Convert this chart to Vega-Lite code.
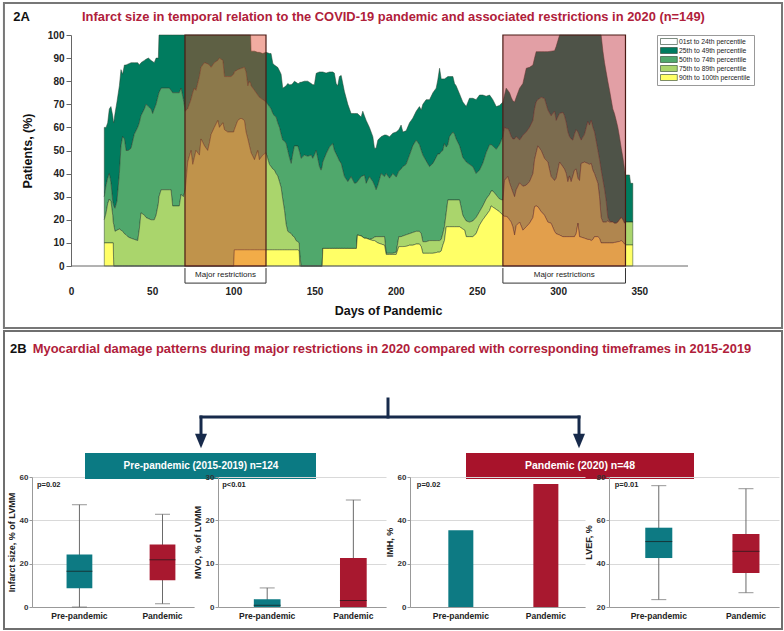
{
"$schema": "https://vega.github.io/schema/vega-lite/v6.json",
"padding": {"left": 2, "top": 2, "right": 2, "bottom": 2},
"background": "white",
"spacing": 0,
"resolve": {"scale": {"color": "independent"}},
"config": {"view": {"stroke": null}, "font": "Liberation Sans", "axis": {"labelFont": "Liberation Sans", "titleFont": "Liberation Sans"}, "text": {"font": "Liberation Sans"}},
"datasets": {
"series": [
{"day":20.5,"c90":10,"c75":20,"c50":30,"c25":60},
{"day":21.6,"c90":10,"c75":23,"c50":35,"c25":60},
{"day":22.6,"c90":10,"c75":27,"c50":38,"c25":62},
{"day":23.6,"c90":10,"c75":29,"c50":40,"c25":68},
{"day":24.6,"c90":10,"c75":28,"c50":36,"c25":69},
{"day":25.7,"c90":10,"c75":22,"c50":28,"c25":65},
{"day":26.0,"c90":10,"c75":19,"c50":27,"c25":63},
{"day":26.3,"c90":0,"c75":18,"c50":26,"c25":62},
{"day":27.1,"c90":0,"c75":15,"c50":25,"c25":66},
{"day":28.3,"c90":0,"c75":15.5,"c50":28,"c25":71},
{"day":29.8,"c90":0,"c75":16,"c50":40,"c25":78},
{"day":30.8,"c90":0,"c75":15.5,"c50":52,"c25":85},
{"day":31.8,"c90":0,"c75":15,"c50":56,"c25":83},
{"day":32.9,"c90":0,"c75":14,"c50":55,"c25":87},
{"day":33.9,"c90":0,"c75":13.5,"c50":50,"c25":87},
{"day":35.3,"c90":0,"c75":12.5,"c50":50,"c25":87.5},
{"day":37.0,"c90":0,"c75":12,"c50":51,"c25":88},
{"day":39.0,"c90":0,"c75":11.5,"c50":57,"c25":88},
{"day":41.1,"c90":0,"c75":11,"c50":60,"c25":88},
{"day":42.1,"c90":0,"c75":16,"c50":62,"c25":87},
{"day":43.1,"c90":0,"c75":23,"c50":65,"c25":88},
{"day":45.2,"c90":0,"c75":22,"c50":68,"c25":89},
{"day":46.2,"c90":0,"c75":21,"c50":70,"c25":89.5},
{"day":47.7,"c90":0,"c75":20.5,"c50":69,"c25":90},
{"day":49.3,"c90":0,"c75":20,"c50":68,"c25":89},
{"day":50.3,"c90":0,"c75":20,"c50":66,"c25":88.5},
{"day":51.3,"c90":0,"c75":20,"c50":68,"c25":88},
{"day":52.4,"c90":0,"c75":22,"c50":70,"c25":90},
{"day":53.8,"c90":0,"c75":27,"c50":74,"c25":90},
{"day":54.2,"c90":0,"c75":30,"c50":75,"c25":100},
{"day":55.5,"c90":0,"c75":33,"c50":77,"c25":100},
{"day":60.6,"c90":0,"c75":33,"c50":77,"c25":100},
{"day":61.6,"c90":0,"c75":33,"c50":76,"c25":100},
{"day":62.6,"c90":0,"c75":26,"c50":75,"c25":100},
{"day":66.7,"c90":0,"c75":26,"c50":75,"c25":100},
{"day":67.8,"c90":0,"c75":31,"c50":77,"c25":100},
{"day":69.2,"c90":0,"c75":30,"c50":72,"c25":100},
{"day":70.4,"c90":0,"c75":33,"c50":67,"c25":100},
{"day":71.9,"c90":0,"c75":45,"c50":68,"c25":100},
{"day":73.9,"c90":0,"c75":50,"c50":72,"c25":100},
{"day":75.0,"c90":0,"c75":44,"c50":75,"c25":100},
{"day":76.0,"c90":0,"c75":47,"c50":77,"c25":100},
{"day":77.0,"c90":0,"c75":50,"c50":76,"c25":100},
{"day":79.1,"c90":0,"c75":48,"c50":82,"c25":100},
{"day":80.1,"c90":0,"c75":55,"c50":86,"c25":100},
{"day":82.2,"c90":0,"c75":52,"c50":88,"c25":100},
{"day":84.2,"c90":0,"c75":50,"c50":87.5,"c25":100},
{"day":85.2,"c90":0,"c75":53,"c50":87,"c25":100},
{"day":86.3,"c90":0,"c75":57,"c50":86,"c25":100},
{"day":88.3,"c90":0,"c75":60,"c50":88,"c25":100},
{"day":90.4,"c90":0,"c75":63,"c50":89,"c25":100},
{"day":91.4,"c90":0,"c75":60,"c50":90,"c25":100},
{"day":93.5,"c90":0,"c75":62,"c50":89,"c25":100},
{"day":94.5,"c90":0,"c75":59,"c50":82,"c25":100},
{"day":96.5,"c90":0,"c75":58,"c50":82,"c25":100},
{"day":98.6,"c90":0,"c75":58,"c50":82,"c25":100},
{"day":100.2,"c90":0,"c75":58,"c50":83,"c25":100},
{"day":100.6,"c90":7,"c75":59,"c50":84,"c25":100},
{"day":102.7,"c90":7,"c75":63,"c50":85,"c25":100},
{"day":104.7,"c90":7,"c75":64,"c50":85.5,"c25":100},
{"day":106.8,"c90":7,"c75":63,"c50":86,"c25":100},
{"day":107.8,"c90":7,"c75":58,"c50":84,"c25":100},
{"day":108.9,"c90":7,"c75":55,"c50":78,"c25":100},
{"day":109.9,"c90":7,"c75":52,"c50":80,"c25":100},
{"day":110.6,"c90":7,"c75":50,"c50":79,"c25":100},
{"day":110.9,"c90":7,"c75":49,"c50":78,"c25":93},
{"day":113.0,"c90":7,"c75":46,"c50":76,"c25":93},
{"day":115.0,"c90":7,"c75":50,"c50":74,"c25":92.5},
{"day":116.0,"c90":7,"c75":46,"c50":73,"c25":92.5},
{"day":118.1,"c90":7,"c75":48,"c50":72,"c25":92},
{"day":120.1,"c90":7,"c75":49,"c50":71,"c25":92.5},
{"day":122.2,"c90":7,"c75":44,"c50":69,"c25":92},
{"day":123.2,"c90":7,"c75":43,"c50":68,"c25":92},
{"day":124.3,"c90":7,"c75":42,"c50":66,"c25":87.7},
{"day":125.3,"c90":7,"c75":41.5,"c50":65,"c25":87},
{"day":126.3,"c90":7,"c75":40,"c50":64.5,"c25":86.5},
{"day":127.3,"c90":7,"c75":39,"c50":62,"c25":86},
{"day":128.4,"c90":7,"c75":36.5,"c50":60,"c25":84.5},
{"day":129.4,"c90":7,"c75":34,"c50":57,"c25":83},
{"day":130.4,"c90":7,"c75":29,"c50":54.5,"c25":77},
{"day":131.5,"c90":7,"c75":24,"c50":54,"c25":77.5},
{"day":132.5,"c90":7,"c75":18,"c50":53,"c25":78},
{"day":133.5,"c90":7,"c75":15,"c50":50,"c25":79},
{"day":134.5,"c90":7,"c75":14.5,"c50":47,"c25":78.5},
{"day":135.6,"c90":7,"c75":14,"c50":44.4,"c25":78.5},
{"day":136.6,"c90":7,"c75":13,"c50":48.5,"c25":79},
{"day":137.6,"c90":7,"c75":12.5,"c50":52,"c25":80},
{"day":138.6,"c90":7,"c75":11,"c50":52,"c25":79.5},
{"day":139.7,"c90":7,"c75":10.5,"c50":52,"c25":79},
{"day":140.5,"c90":6.6,"c75":10,"c50":50,"c25":79},
{"day":140.9,"c90":0,"c75":5,"c50":49,"c25":79.5},
{"day":141.7,"c90":0,"c75":0,"c50":46.6,"c25":79.5},
{"day":143.8,"c90":0,"c75":0,"c50":48,"c25":80},
{"day":145.8,"c90":0,"c75":0,"c50":47.5,"c25":80},
{"day":147.9,"c90":0,"c75":0,"c50":48,"c25":79},
{"day":148.9,"c90":0,"c75":0,"c50":46.6,"c25":78.5},
{"day":149.9,"c90":0,"c75":0,"c50":48,"c25":78.5},
{"day":151.0,"c90":0,"c75":0,"c50":50,"c25":83.4},
{"day":153.0,"c90":0,"c75":0,"c50":43,"c25":84},
{"day":154.0,"c90":0,"c75":0,"c50":41.5,"c25":84},
{"day":154.7,"c90":0,"c75":0,"c50":43,"c25":84},
{"day":155.1,"c90":7.6,"c75":7.6,"c50":45,"c25":84},
{"day":157.1,"c90":7.6,"c75":7.6,"c50":48.5,"c25":83.5},
{"day":159.2,"c90":7.6,"c75":7.6,"c50":51.5,"c25":84},
{"day":161.2,"c90":7.6,"c75":7.6,"c50":53,"c25":84},
{"day":162.2,"c90":7.6,"c75":7.6,"c50":50,"c25":83.5},
{"day":163.3,"c90":7.6,"c75":7.6,"c50":48.5,"c25":79},
{"day":164.3,"c90":7.6,"c75":7.6,"c50":47,"c25":78},
{"day":165.3,"c90":7.6,"c75":7.6,"c50":45.5,"c25":82},
{"day":166.4,"c90":7.6,"c75":7.6,"c50":44.4,"c25":82.5},
{"day":167.4,"c90":7.6,"c75":7.6,"c50":41.5,"c25":79},
{"day":168.4,"c90":7.6,"c75":7.6,"c50":38.7,"c25":75.5},
{"day":170.5,"c90":7.6,"c75":7.6,"c50":36.5,"c25":70},
{"day":172.5,"c90":7.6,"c75":7.6,"c50":38.7,"c25":66},
{"day":174.6,"c90":7.6,"c75":7.6,"c50":35.8,"c25":66},
{"day":175.8,"c90":7.6,"c75":7.6,"c50":36,"c25":66},
{"day":176.4,"c90":13.4,"c75":13.4,"c50":36.5,"c25":66},
{"day":178.7,"c90":13,"c75":13,"c50":38.7,"c25":64.5},
{"day":179.7,"c90":12.5,"c75":12.5,"c50":39,"c25":67},
{"day":180.7,"c90":12,"c75":12,"c50":39.4,"c25":65},
{"day":181.8,"c90":12,"c75":12,"c50":35.8,"c25":63},
{"day":183.8,"c90":11.5,"c75":11.5,"c50":38.7,"c25":60},
{"day":185.9,"c90":11,"c75":12,"c50":36.5,"c25":56},
{"day":186.9,"c90":11,"c75":12.5,"c50":35,"c25":51},
{"day":187.9,"c90":10.5,"c75":12.7,"c50":33,"c25":51},
{"day":189.0,"c90":10,"c75":12.7,"c50":35,"c25":54.5},
{"day":191.0,"c90":9.5,"c75":12.7,"c50":40,"c25":56},
{"day":193.1,"c90":9,"c75":12.7,"c50":38.7,"c25":56.7},
{"day":194.1,"c90":5,"c75":5.5,"c50":40,"c25":56.7},
{"day":196.2,"c90":5,"c75":5.5,"c50":38,"c25":56},
{"day":198.2,"c90":5,"c75":5.5,"c50":40,"c25":57.5},
{"day":200.3,"c90":5,"c75":6,"c50":38.5,"c25":58},
{"day":201.9,"c90":8.4,"c75":12.7,"c50":41,"c25":59},
{"day":203.3,"c90":8.4,"c75":12.7,"c50":42,"c25":61},
{"day":204.4,"c90":8.4,"c75":13,"c50":43,"c25":58},
{"day":206.4,"c90":8.5,"c75":13.5,"c50":44,"c25":58.5},
{"day":208.5,"c90":9,"c75":14,"c50":48,"c25":62},
{"day":210.5,"c90":9,"c75":14.5,"c50":52,"c25":64},
{"day":212.6,"c90":9.5,"c75":15,"c50":54.5,"c25":67},
{"day":214.6,"c90":9.5,"c75":15,"c50":52.5,"c25":69},
{"day":215.7,"c90":8.4,"c75":14,"c50":50,"c25":67.5},
{"day":216.7,"c90":5.5,"c75":10.5,"c50":48,"c25":70},
{"day":218.7,"c90":5.5,"c75":10.5,"c50":45.5,"c25":72},
{"day":220.8,"c90":5.5,"c75":11,"c50":43,"c25":72},
{"day":222.9,"c90":5.5,"c75":11,"c50":44.4,"c25":75},
{"day":224.9,"c90":5.8,"c75":11,"c50":47,"c25":77},
{"day":225.9,"c90":6,"c75":11,"c50":48.5,"c25":80.5},
{"day":227.0,"c90":6,"c75":11,"c50":48.5,"c25":85.6},
{"day":228.0,"c90":6.5,"c75":11.5,"c50":49.5,"c25":81},
{"day":229.0,"c90":9,"c75":14,"c50":50,"c25":81},
{"day":230.0,"c90":11,"c75":17,"c50":53,"c25":81},
{"day":231.1,"c90":17,"c75":23,"c50":51.5,"c25":81.5},
{"day":232.1,"c90":17,"c75":28.6,"c50":52.5,"c25":82},
{"day":233.1,"c90":17,"c75":28.6,"c50":56,"c25":82},
{"day":235.2,"c90":17,"c75":28.6,"c50":58,"c25":82},
{"day":236.2,"c90":17,"c75":28.6,"c50":57,"c25":79},
{"day":237.2,"c90":17,"c75":28.6,"c50":55,"c25":78},
{"day":239.3,"c90":17,"c75":28.6,"c50":52,"c25":74.5},
{"day":241.3,"c90":16,"c75":22,"c50":47,"c25":71},
{"day":242.4,"c90":15.6,"c75":20.6,"c50":46,"c25":70},
{"day":243.4,"c90":12.7,"c75":19.5,"c50":45,"c25":69},
{"day":245.4,"c90":12.7,"c75":19,"c50":44,"c25":72.6},
{"day":247.5,"c90":12.7,"c75":19.5,"c50":43,"c25":72.6},
{"day":249.5,"c90":14,"c75":21,"c50":40,"c25":72},
{"day":251.6,"c90":17.7,"c75":23.5,"c50":41.5,"c25":74},
{"day":253.6,"c90":20,"c75":26,"c50":44.4,"c25":74},
{"day":255.7,"c90":22,"c75":29,"c50":49,"c25":73.5},
{"day":257.8,"c90":24,"c75":31,"c50":52.5,"c25":74},
{"day":258.8,"c90":26,"c75":32.5,"c50":52.5,"c25":73},
{"day":259.8,"c90":25.5,"c75":32.5,"c50":52,"c25":72},
{"day":261.9,"c90":24.5,"c75":30.7,"c50":50.5,"c25":69},
{"day":263.9,"c90":23.5,"c75":29,"c50":52.5,"c25":69.5},
{"day":266.0,"c90":22,"c75":28.5,"c50":56,"c25":71},
{"day":267.0,"c90":21.5,"c75":37,"c50":60,"c25":74},
{"day":268.0,"c90":21.5,"c75":38,"c50":59.5,"c25":77},
{"day":269.1,"c90":21,"c75":38.7,"c50":59.5,"c25":76},
{"day":270.1,"c90":20,"c75":36,"c50":58,"c25":75},
{"day":271.1,"c90":19,"c75":34,"c50":56,"c25":73},
{"day":272.1,"c90":17,"c75":32,"c50":55,"c25":71.5},
{"day":273.2,"c90":13.4,"c75":30,"c50":55,"c25":71},
{"day":274.2,"c90":17.5,"c75":33,"c50":56,"c25":73},
{"day":276.3,"c90":19,"c75":36,"c50":54.5,"c25":77},
{"day":278.3,"c90":15.5,"c75":34.5,"c50":56.5,"c25":79},
{"day":280.4,"c90":17,"c75":35,"c50":58,"c25":85.6},
{"day":282.4,"c90":18.5,"c75":36.5,"c50":60,"c25":86},
{"day":284.5,"c90":21,"c75":40,"c50":63,"c25":87},
{"day":285.5,"c90":25.7,"c75":46,"c50":68,"c25":90},
{"day":286.5,"c90":26,"c75":49,"c50":71,"c25":92.8},
{"day":287.5,"c90":25.7,"c75":52,"c50":72,"c25":92.8},
{"day":289.6,"c90":23.5,"c75":50,"c50":73,"c25":92.8},
{"day":291.6,"c90":22,"c75":46.6,"c50":72.5,"c25":92.8},
{"day":293.7,"c90":19,"c75":45,"c50":67.5,"c25":92.8},
{"day":295.7,"c90":18.5,"c75":38.7,"c50":65,"c25":93},
{"day":297.8,"c90":15,"c75":37,"c50":67,"c25":93.2},
{"day":298.8,"c90":14,"c75":38,"c50":63,"c25":95},
{"day":300.9,"c90":13.4,"c75":45,"c50":66,"c25":100},
{"day":302.9,"c90":12.7,"c75":43,"c50":66.5,"c25":100},
{"day":303.9,"c90":12.7,"c75":42,"c50":65,"c25":100},
{"day":305.0,"c90":12.7,"c75":40,"c50":62,"c25":100},
{"day":306.0,"c90":12.7,"c75":36.5,"c50":58,"c25":100},
{"day":307.0,"c90":12.7,"c75":39,"c50":56,"c25":100},
{"day":308.0,"c90":12.7,"c75":36.5,"c50":55,"c25":100},
{"day":309.1,"c90":12.7,"c75":39,"c50":54.5,"c25":100},
{"day":310.1,"c90":12.7,"c75":41.5,"c50":57,"c25":100},
{"day":311.1,"c90":14,"c75":42,"c50":59,"c25":100},
{"day":312.2,"c90":18.5,"c75":38,"c50":58,"c25":100},
{"day":313.2,"c90":12.7,"c75":37,"c50":56,"c25":100},
{"day":314.2,"c90":12.5,"c75":44.4,"c50":54.5,"c25":100},
{"day":316.3,"c90":12,"c75":45,"c50":57,"c25":100},
{"day":318.3,"c90":11.5,"c75":44.4,"c50":62.5,"c25":100},
{"day":319.3,"c90":11.5,"c75":44,"c50":61,"c25":100},
{"day":320.4,"c90":11,"c75":44.4,"c50":63,"c25":100},
{"day":321.4,"c90":11.5,"c75":41.5,"c50":60,"c25":100},
{"day":322.4,"c90":12.7,"c75":40,"c50":58,"c25":100},
{"day":324.5,"c90":12.7,"c75":35.8,"c50":50,"c25":100},
{"day":325.5,"c90":12,"c75":30,"c50":46,"c25":100},
{"day":326.5,"c90":10,"c75":21,"c50":41.5,"c25":100},
{"day":327.6,"c90":10,"c75":19,"c50":37,"c25":93},
{"day":328.6,"c90":10,"c75":19,"c50":33,"c25":88},
{"day":329.6,"c90":10,"c75":19,"c50":28,"c25":84},
{"day":330.6,"c90":10,"c75":19.5,"c50":21,"c25":80},
{"day":331.7,"c90":10,"c75":19,"c50":19.5,"c25":76},
{"day":332.7,"c90":10,"c75":19,"c50":19,"c25":72},
{"day":333.7,"c90":10,"c75":19,"c50":19,"c25":68},
{"day":334.7,"c90":10.2,"c75":18.5,"c50":18.5,"c25":66},
{"day":335.8,"c90":10.3,"c75":18.5,"c50":18.5,"c25":63},
{"day":336.8,"c90":10.5,"c75":19,"c50":19,"c25":60},
{"day":337.8,"c90":10.6,"c75":20,"c50":20,"c25":56},
{"day":338.9,"c90":11,"c75":21,"c50":21,"c25":51},
{"day":339.9,"c90":10.5,"c75":20,"c50":20,"c25":47},
{"day":340.9,"c90":9.5,"c75":18.5,"c50":18.5,"c25":42},
{"day":341.5,"c90":9.1,"c75":19,"c50":19,"c25":39.4},
{"day":344.0,"c90":9.1,"c75":19,"c50":19,"c25":39.4},
{"day":344.6,"c90":9.1,"c75":19,"c50":19,"c25":35.8},
{"day":346.0,"c90":9.1,"c75":19,"c50":19,"c25":35.8}
],
"restrictions": [
{"start":70.2,"end":120.1,"mid":95.15,"wave":"first","label":"Major restrictions"},
{"start":266.0,"end":341.5,"mid":303.75,"wave":"second","label":"Major restrictions"}
],
"infarct": [
{"group":"Pre-pandemic","min":0,"q1":8.6,"median":16.5,"q3":24.2,"max":47.2},
{"group":"Pandemic","min":1.5,"q1":12.3,"median":21.8,"q3":28.9,"max":42.8}
],
"mvo": [
{"group":"Pre-pandemic","min":0,"q1":0,"median":0.4,"q3":1.8,"max":4.4},
{"group":"Pandemic","min":0,"q1":0,"median":1.5,"q3":11.3,"max":24.7}
],
"imh": [
{"group":"Pre-pandemic","pct":35.4},
{"group":"Pandemic","pct":56.8}
],
"lvef": [
{"group":"Pre-pandemic","min":23.4,"q1":42.6,"median":50.2,"q3":56.6,"max":76},
{"group":"Pandemic","min":26.6,"q1":35.7,"median":45.7,"q3":53.7,"max":74.6}
]
},
"vconcat": [
{
"width": 656, "height": 231,
"resolve": {"axis": {"x": "independent", "y": "independent"}},
"layer": [
{"data": {"name": "series"}, "mark": {"type": "area", "stroke": "#27402e", "strokeWidth": 0.5},
 "encoding": {
  "x": {"field": "day", "type": "quantitative", "scale": {"domain": [-24.02, 380]},
   "axis": {"orient": "bottom", "values": [0,50,100,150,200,250,300,350], "domain": false, "ticks": false, "tickSize": 0, "labelPadding": 20, "labelFontSize": 10, "labelFontWeight": "bold", "labelColor": "#222", "grid": false, "title": "Days of Pandemic", "titleFontSize": 12.5, "titleFontWeight": "bold", "titleColor": "#111", "titlePadding": 8, "titleX": 356}},
  "y": {"field": "c25", "type": "quantitative", "scale": {"domain": [0, 100]},
   "axis": {"orient": "left", "offset": -39, "values": [0,10,20,30,40,50,60,70,80,90,100], "tickSize": 5, "tickColor": "#666", "domainColor": "#666", "labelFontSize": 10, "labelFontWeight": "bold", "labelColor": "#222", "labelPadding": 2, "grid": false, "title": "Patients, (%)", "titleFontSize": 12.5, "titleFontWeight": "bold", "titleColor": "#111", "titlePadding": 13}},
  "y2": {"field": "c50"},
  "color": {"datum": "25th to 49th percentile", "type": "nominal",
   "scale": {"domain": ["01st to 24th percentile", "25th to 49th percentile", "50th to 74th percentile", "75th to 89th percentile", "90th to 100th percentile"], "range": ["#ffffff", "#007c5f", "#50a86c", "#aad56c", "#ffff66"]},
   "legend": {"orient": "none", "legendX": 625, "legendY": 0, "title": null, "labelFontSize": 6.8, "labelColor": "#222", "symbolType": "M-1,-1H4.6V1H-1Z", "symbolSize": 36, "symbolStrokeColor": "#333", "symbolStrokeWidth": 0.6, "symbolOpacity": 1, "strokeColor": "#999", "fillColor": "white", "padding": 3, "rowPadding": 0, "labelOffset": 12}}}},
{"data": {"name": "series"}, "mark": {"type": "area", "stroke": "#27402e", "strokeWidth": 0.5},
 "encoding": {"x": {"field": "day", "type": "quantitative", "scale": {"domain": [-24.02, 380]}, "axis": null}, "y": {"field": "c50", "type": "quantitative", "scale": {"domain": [0, 100]}, "axis": null}, "y2": {"field": "c75"}, "color": {"datum": "50th to 74th percentile", "type": "nominal"}}},
{"data": {"name": "series"}, "mark": {"type": "area", "stroke": "#27402e", "strokeWidth": 0.5},
 "encoding": {"x": {"field": "day", "type": "quantitative", "scale": {"domain": [-24.02, 380]}, "axis": null}, "y": {"field": "c75", "type": "quantitative", "scale": {"domain": [0, 100]}, "axis": null}, "y2": {"field": "c90"}, "color": {"datum": "75th to 89th percentile", "type": "nominal"}}},
{"data": {"name": "series"}, "mark": {"type": "area", "stroke": "#27402e", "strokeWidth": 0.5},
 "encoding": {"x": {"field": "day", "type": "quantitative", "scale": {"domain": [-24.02, 380]}, "axis": null}, "y": {"field": "c90", "type": "quantitative", "scale": {"domain": [0, 100]}, "axis": null}, "y2": {"datum": 0}, "color": {"datum": "90th to 100th percentile", "type": "nominal"}}},
{"data": {"values": [{}]}, "mark": {"type": "rule", "color": "#666", "strokeWidth": 1},
 "encoding": {"x": {"datum": 0, "type": "quantitative", "scale": {"domain": [-24.02, 380]}, "axis": null}, "x2": {"datum": 380}, "y": {"datum": 0, "type": "quantitative", "scale": {"domain": [0, 100]}, "axis": null}}},
{"data": {"values": [{}]}, "mark": {"type": "rect", "fill": "transparent", "stroke": "#777777", "strokeWidth": 2},
 "encoding": {"x": {"datum": -41.3, "type": "quantitative", "scale": {"domain": [-24.02, 380]}, "axis": null}, "x2": {"datum": 437.9},
  "y": {"datum": 113.85, "type": "quantitative", "scale": {"domain": [0, 100]}, "axis": null}, "y2": {"datum": -26.84}}},
{"data": {"name": "restrictions"}, "mark": {"type": "rect", "fillOpacity": 0.42, "stroke": "#4a1a14", "strokeWidth": 1.2},
 "encoding": {"x": {"field": "start", "type": "quantitative", "scale": {"domain": [-24.02, 380]}, "axis": null}, "x2": {"field": "end"},
  "y": {"datum": 0, "type": "quantitative", "scale": {"domain": [0, 100]}, "axis": null}, "y2": {"datum": 100},
  "fill": {"field": "wave", "type": "nominal", "scale": {"domain": ["first", "second"], "range": ["#e03a1e", "#bb1a28"]}, "legend": null}}},
{"data": {"name": "restrictions"}, "mark": {"type": "rule", "color": "#333", "strokeWidth": 1},
 "encoding": {"x": {"field": "start", "type": "quantitative", "scale": {"domain": [-24.02, 380]}, "axis": null}, "y": {"datum": -0.9, "type": "quantitative", "scale": {"domain": [0, 100]}, "axis": null}, "y2": {"datum": -7.4}}},
{"data": {"name": "restrictions"}, "mark": {"type": "rule", "color": "#333", "strokeWidth": 1},
 "encoding": {"x": {"field": "end", "type": "quantitative", "scale": {"domain": [-24.02, 380]}, "axis": null}, "y": {"datum": -0.9, "type": "quantitative", "scale": {"domain": [0, 100]}, "axis": null}, "y2": {"datum": -7.4}}},
{"data": {"name": "restrictions"}, "mark": {"type": "rule", "color": "#333", "strokeWidth": 1},
 "encoding": {"x": {"field": "start", "type": "quantitative", "scale": {"domain": [-24.02, 380]}, "axis": null}, "x2": {"field": "end"}, "y": {"datum": -7.4, "type": "quantitative", "scale": {"domain": [0, 100]}, "axis": null}}},
{"data": {"name": "restrictions"}, "mark": {"type": "text", "fontSize": 8, "color": "#222", "baseline": "middle"},
 "encoding": {"x": {"field": "mid", "type": "quantitative", "scale": {"domain": [-24.02, 380]}, "axis": null}, "y": {"datum": -3.7, "type": "quantitative", "scale": {"domain": [0, 100]}, "axis": null}, "text": {"field": "label"}}},
{"data": {"values": [{}]}, "mark": {"type": "text", "align": "left", "baseline": "middle", "fontSize": 13, "fontWeight": "bold", "color": "#111"},
 "encoding": {"x": {"datum": -35.5, "type": "quantitative", "scale": {"domain": [-24.02, 380]}, "axis": null}, "y": {"datum": 107.8, "type": "quantitative", "scale": {"domain": [0, 100]}, "axis": null}, "text": {"value": "2A"}}},
{"data": {"values": [{}]}, "mark": {"type": "text", "align": "center", "baseline": "middle", "fontSize": 12.9, "fontWeight": "bold", "color": "#b0203a"},
 "encoding": {"x": {"datum": 198.6, "type": "quantitative", "scale": {"domain": [-24.02, 380]}, "axis": null}, "y": {"datum": 107.8, "type": "quantitative", "scale": {"domain": [0, 100]}, "axis": null}, "text": {"value": "Infarct size in temporal relation to the COVID-19 pandemic and associated restrictions in 2020 (n=149)"}}}
]
},
{
"hconcat": [
{
"width": 162, "height": 130,
"layer": [
{"data": {"name": "infarct"},
 "encoding": {"x": {"field": "group", "type": "nominal", "sort": ["Pre-pandemic", "Pandemic"], "scale": {"paddingInner": 0.69, "paddingOuter": 0.32, "align": 0.65},
   "axis": {"title": null, "labelAngle": 0, "ticks": false, "labelPadding": 4, "labelFontSize": 8.5, "labelFontWeight": "bold", "labelColor": "#222", "domainColor": "#999"}}},
 "layer": [
  {"mark": {"type": "rule", "color": "#6a6a6a", "strokeWidth": 1},
   "encoding": {"y": {"field": "min", "type": "quantitative", "scale": {"domain": [0, 60]},
     "axis": {"values": [0,10,20,30,40,50,60], "grid": true, "gridColor": "#d9d9d9", "domainColor": "#999", "tickColor": "#999", "tickSize": 3, "labelFontSize": 8, "labelFontWeight": "bold", "labelColor": "#333", "labelPadding": 1, "title": "Infarct size, % of LVMM", "titleFontSize": 9, "titleFontWeight": "bold", "titleColor": "#222", "titlePadding": 3}},
    "y2": {"field": "max"}}},
  {"mark": {"type": "bar"}, "encoding": {"y": {"field": "q1", "type": "quantitative"}, "y2": {"field": "q3"},
   "color": {"field": "group", "type": "nominal", "scale": {"domain": ["Pre-pandemic", "Pandemic"], "range": ["#0d7a83", "#a8182f"]}, "legend": null}}},
  {"mark": {"type": "tick", "color": "#1a1a1a", "thickness": 1, "size": 26}, "encoding": {"y": {"field": "median", "type": "quantitative"}}},
  {"mark": {"type": "tick", "color": "#6a6a6a", "thickness": 1, "size": 15}, "encoding": {"y": {"field": "max", "type": "quantitative"}}},
  {"mark": {"type": "tick", "color": "#6a6a6a", "thickness": 1, "size": 15}, "encoding": {"y": {"field": "min", "type": "quantitative"}}},
  {"data": {"values": [{}]}, "mark": {"type": "text", "align": "left", "baseline": "middle", "dx": -42.5, "fontSize": 7.5, "fontWeight": "bold", "color": "#222"},
   "encoding": {"x": {"datum": "Pre-pandemic"}, "y": {"datum": 56.3, "type": "quantitative"}, "text": {"value": "p=0.02"}}}
 ]},
{"data": {"values": [{}]},
 "layer": [
  {"mark": {"type": "rect", "fill": "transparent", "stroke": "#6f6f6f", "strokeWidth": 2},
   "encoding": {"x": {"datum": -28, "type": "quantitative", "scale": {"domain": [0, 162]}, "axis": null}, "x2": {"datum": 750},
    "y": {"datum": 276, "type": "quantitative", "scale": {"domain": [0, 130]}, "axis": null}, "y2": {"datum": -22}}},
  {"mark": {"type": "text", "align": "left", "baseline": "middle", "fontSize": 13, "fontWeight": "bold", "color": "#111"},
   "encoding": {"x": {"datum": -22, "type": "quantitative", "scale": {"domain": [0, 162]}, "axis": null}, "y": {"datum": 258, "type": "quantitative", "scale": {"domain": [0, 130]}, "axis": null}, "text": {"value": "2B"}}},
  {"mark": {"type": "text", "align": "center", "baseline": "middle", "fontSize": 12.9, "fontWeight": "bold", "color": "#b0203a"},
   "encoding": {"x": {"datum": 360, "type": "quantitative", "scale": {"domain": [0, 162]}, "axis": null}, "y": {"datum": 258, "type": "quantitative", "scale": {"domain": [0, 130]}, "axis": null}, "text": {"value": "Myocardial damage patterns during major restrictions in 2020 compared with corresponding timeframes in 2015-2019"}}},
  {"mark": {"type": "rule", "color": "#172a4b", "strokeWidth": 3, "strokeCap": "square"},
   "encoding": {"x": {"datum": 356, "type": "quantitative", "scale": {"domain": [0, 162]}, "axis": null}, "y": {"datum": 208, "type": "quantitative", "scale": {"domain": [0, 130]}, "axis": null}, "y2": {"datum": 190}}},
  {"mark": {"type": "rule", "color": "#172a4b", "strokeWidth": 3, "strokeCap": "square"},
   "encoding": {"x": {"datum": 169, "type": "quantitative", "scale": {"domain": [0, 162]}, "axis": null}, "x2": {"datum": 547}, "y": {"datum": 190, "type": "quantitative", "scale": {"domain": [0, 130]}, "axis": null}}},
  {"mark": {"type": "rule", "color": "#172a4b", "strokeWidth": 3, "strokeCap": "square"},
   "encoding": {"x": {"datum": 169, "type": "quantitative", "scale": {"domain": [0, 162]}, "axis": null}, "y": {"datum": 190, "type": "quantitative", "scale": {"domain": [0, 130]}, "axis": null}, "y2": {"datum": 171}}},
  {"mark": {"type": "rule", "color": "#172a4b", "strokeWidth": 3, "strokeCap": "square"},
   "encoding": {"x": {"datum": 547, "type": "quantitative", "scale": {"domain": [0, 162]}, "axis": null}, "y": {"datum": 190, "type": "quantitative", "scale": {"domain": [0, 130]}, "axis": null}, "y2": {"datum": 171}}},
  {"mark": {"type": "point", "shape": "M-1,-1.2L1,-1.2L0,1.2Z", "filled": true, "opacity": 1, "size": 144, "color": "#172a4b"},
   "encoding": {"x": {"datum": 169, "type": "quantitative", "scale": {"domain": [0, 162]}, "axis": null}, "y": {"datum": 166, "type": "quantitative", "scale": {"domain": [0, 130]}, "axis": null}}},
  {"mark": {"type": "point", "shape": "M-1,-1.2L1,-1.2L0,1.2Z", "filled": true, "opacity": 1, "size": 144, "color": "#172a4b"},
   "encoding": {"x": {"datum": 547, "type": "quantitative", "scale": {"domain": [0, 162]}, "axis": null}, "y": {"datum": 166, "type": "quantitative", "scale": {"domain": [0, 130]}, "axis": null}}},
  {"mark": {"type": "rect", "color": "#0b7a83"},
   "encoding": {"x": {"datum": 53, "type": "quantitative", "scale": {"domain": [0, 162]}, "axis": null}, "x2": {"datum": 284}, "y": {"datum": 154, "type": "quantitative", "scale": {"domain": [0, 130]}, "axis": null}, "y2": {"datum": 128}}},
  {"mark": {"type": "rect", "color": "#a8132b"},
   "encoding": {"x": {"datum": 434, "type": "quantitative", "scale": {"domain": [0, 162]}, "axis": null}, "x2": {"datum": 662}, "y": {"datum": 154, "type": "quantitative", "scale": {"domain": [0, 130]}, "axis": null}, "y2": {"datum": 128}}},
  {"mark": {"type": "text", "align": "center", "baseline": "middle", "fontSize": 10, "fontWeight": "bold", "color": "white"},
   "encoding": {"x": {"datum": 169, "type": "quantitative", "scale": {"domain": [0, 162]}, "axis": null}, "y": {"datum": 141, "type": "quantitative", "scale": {"domain": [0, 130]}, "axis": null}, "text": {"value": "Pre-pandemic (2015-2019)  n=124"}}},
  {"mark": {"type": "text", "align": "center", "baseline": "middle", "fontSize": 10.5, "fontWeight": "bold", "color": "white"},
   "encoding": {"x": {"datum": 548, "type": "quantitative", "scale": {"domain": [0, 162]}, "axis": null}, "y": {"datum": 141, "type": "quantitative", "scale": {"domain": [0, 130]}, "axis": null}, "text": {"value": "Pandemic (2020) n=48"}}}
 ]}
],
"resolve": {"scale": {"x": "independent", "y": "independent"}, "axis": {"x": "independent", "y": "independent"}}
},
{
"width": 168, "height": 130,
"data": {"name": "mvo"},
"encoding": {"x": {"field": "group", "type": "nominal", "sort": ["Pre-pandemic", "Pandemic"], "scale": {"paddingInner": 0.69, "paddingOuter": 0.32, "align": 0.65},
  "axis": {"title": null, "labelAngle": 0, "ticks": false, "labelPadding": 4, "labelFontSize": 8.5, "labelFontWeight": "bold", "labelColor": "#222", "domainColor": "#999"}}},
"layer": [
 {"mark": {"type": "rule", "color": "#6a6a6a", "strokeWidth": 1},
  "encoding": {"y": {"field": "min", "type": "quantitative", "scale": {"domain": [0, 30]},
    "axis": {"values": [0,5,10,15,20,25,30], "grid": true, "gridColor": "#d9d9d9", "domainColor": "#999", "tickColor": "#999", "tickSize": 3, "labelFontSize": 8, "labelFontWeight": "bold", "labelColor": "#333", "labelPadding": 1, "title": "MVO, % of LVMM", "titleFontSize": 9, "titleFontWeight": "bold", "titleColor": "#222", "titlePadding": 3}},
   "y2": {"field": "max"}}},
 {"mark": {"type": "bar"}, "encoding": {"y": {"field": "q1", "type": "quantitative"}, "y2": {"field": "q3"},
  "color": {"field": "group", "type": "nominal", "scale": {"domain": ["Pre-pandemic", "Pandemic"], "range": ["#0d7a83", "#a8182f"]}, "legend": null}}},
 {"mark": {"type": "tick", "color": "#1a1a1a", "thickness": 1, "size": 27}, "encoding": {"y": {"field": "median", "type": "quantitative"}}},
 {"mark": {"type": "tick", "color": "#6a6a6a", "thickness": 1, "size": 15}, "encoding": {"y": {"field": "max", "type": "quantitative"}}},
 {"data": {"values": [{}]}, "mark": {"type": "text", "align": "left", "baseline": "middle", "dx": -45, "fontSize": 7.5, "fontWeight": "bold", "color": "#222"},
  "encoding": {"x": {"datum": "Pre-pandemic"}, "y": {"datum": 28.15, "type": "quantitative"}, "text": {"value": "p<0.01"}}}
]
},
{
"width": 175, "height": 130,
"data": {"name": "imh"},
"encoding": {"x": {"field": "group", "type": "nominal", "sort": ["Pre-pandemic", "Pandemic"], "scale": {"paddingInner": 0.706, "paddingOuter": 0.382, "align": 0.59},
  "axis": {"title": null, "labelAngle": 0, "ticks": false, "labelPadding": 4, "labelFontSize": 8.5, "labelFontWeight": "bold", "labelColor": "#222", "domainColor": "#999"}}},
"layer": [
 {"mark": {"type": "bar"},
  "encoding": {"y": {"field": "pct", "type": "quantitative", "scale": {"domain": [0, 60]},
    "axis": {"values": [0,10,20,30,40,50,60], "grid": true, "gridColor": "#d9d9d9", "domainColor": "#999", "tickColor": "#999", "tickSize": 3, "labelFontSize": 8, "labelFontWeight": "bold", "labelColor": "#333", "labelPadding": 1, "title": "IMH, %", "titleFontSize": 9, "titleFontWeight": "bold", "titleColor": "#222", "titlePadding": 3}},
   "color": {"field": "group", "type": "nominal", "scale": {"domain": ["Pre-pandemic", "Pandemic"], "range": ["#0d7a83", "#a8182f"]}, "legend": null}}},
 {"data": {"values": [{}]}, "mark": {"type": "text", "align": "left", "baseline": "middle", "dx": -44, "fontSize": 7.5, "fontWeight": "bold", "color": "#222"},
  "encoding": {"x": {"datum": "Pre-pandemic"}, "y": {"datum": 56.3, "type": "quantitative"}, "text": {"value": "p=0.02"}}}
]
},
{
"width": 170, "height": 130,
"data": {"name": "lvef"},
"encoding": {"x": {"field": "group", "type": "nominal", "sort": ["Pre-pandemic", "Pandemic"], "scale": {"paddingInner": 0.69, "paddingOuter": 0.32, "align": 0.65},
  "axis": {"title": null, "labelAngle": 0, "ticks": false, "labelPadding": 4, "labelFontSize": 8.5, "labelFontWeight": "bold", "labelColor": "#222", "domainColor": "#999"}}},
"layer": [
 {"mark": {"type": "rule", "color": "#6a6a6a", "strokeWidth": 1},
  "encoding": {"y": {"field": "min", "type": "quantitative", "scale": {"domain": [20, 80]},
    "axis": {"values": [20,30,40,50,60,70,80], "grid": true, "gridColor": "#d9d9d9", "domainColor": "#999", "tickColor": "#999", "tickSize": 3, "labelFontSize": 8, "labelFontWeight": "bold", "labelColor": "#333", "labelPadding": 1, "title": "LVEF, %", "titleFontSize": 9, "titleFontWeight": "bold", "titleColor": "#222", "titlePadding": 3}},
   "y2": {"field": "max"}}},
 {"mark": {"type": "bar"}, "encoding": {"y": {"field": "q1", "type": "quantitative"}, "y2": {"field": "q3"},
  "color": {"field": "group", "type": "nominal", "scale": {"domain": ["Pre-pandemic", "Pandemic"], "range": ["#0d7a83", "#a8182f"]}, "legend": null}}},
 {"mark": {"type": "tick", "color": "#1a1a1a", "thickness": 1, "size": 27}, "encoding": {"y": {"field": "median", "type": "quantitative"}}},
 {"mark": {"type": "tick", "color": "#6a6a6a", "thickness": 1, "size": 15}, "encoding": {"y": {"field": "max", "type": "quantitative"}}},
 {"mark": {"type": "tick", "color": "#6a6a6a", "thickness": 1, "size": 15}, "encoding": {"y": {"field": "min", "type": "quantitative"}}},
 {"data": {"values": [{}]}, "mark": {"type": "text", "align": "left", "baseline": "middle", "dx": -44, "fontSize": 7.5, "fontWeight": "bold", "color": "#222"},
  "encoding": {"x": {"datum": "Pre-pandemic"}, "y": {"datum": 76.3, "type": "quantitative"}, "text": {"value": "p=0.01"}}}
]
}
],
"spacing": 24,
"bounds": "flush"
}
]
}
